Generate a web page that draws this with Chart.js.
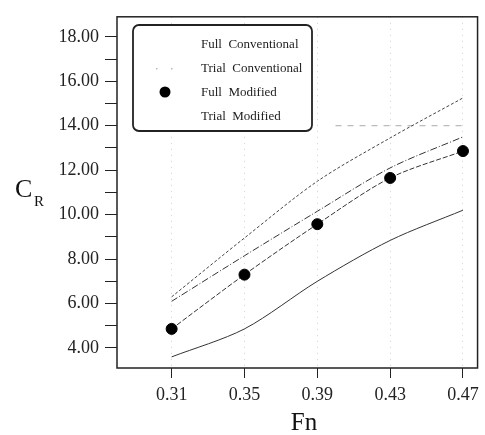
<!DOCTYPE html>
<html>
<head>
<meta charset="utf-8">
<script src="https://cdn.jsdelivr.net/npm/chart.js@4"></script>
<style>
  html, body { margin: 0; padding: 0; background: #fff; }
  #wrap { width: 485px; height: 435px; }
</style>
</head>
<body>
<div id="wrap"><canvas id="crChart" width="485" height="435"></canvas></div>
<script>
// Data
const fn = [0.31, 0.35, 0.39, 0.43, 0.47];
const fullConventional = [6.3, 8.95, 11.5, 13.45, 15.25];
const trialConventional = [6.1, 8.15, 10.15, 12.1, 13.5];
const fullModified = [4.86, 7.3, 9.57, 11.65, 12.86];
const trialModified = [3.6, 4.86, 7.0, 8.84, 10.2];
const seriesLabels = ["Full  Conventional", "Trial  Conventional", "Full  Modified", "Trial  Modified"];

// dashed reference line near the top right
const refX = [0.40, 0.47];
const refY = 14;

const xTicks = [0.31, 0.35, 0.39, 0.43, 0.47];
const yTicks = [4, 5, 6, 7, 8, 9, 10, 11, 12, 13, 14, 15, 16, 17, 18];

const serif = "'Liberation Serif', 'DejaVu Serif', serif";

function pts(ys) {
  return fn.map((x, i) => ({ x: x, y: ys[i] }));
}

// frame around the plot area
const framePlugin = {
  id: "frame",
  afterDraw(chart) {
    const a = chart.chartArea;
    const c = chart.ctx;
    c.save();
    c.strokeStyle = "#222";
    c.lineWidth = 1.5;
    c.strokeRect(a.left, a.top, a.right - a.left, a.bottom - a.top);
    c.restore();
  }
};

// axis titles (C with subscript R, and Fn)
const titlesPlugin = {
  id: "titles",
  afterDraw(chart) {
    const c = chart.ctx;
    c.save();
    c.fillStyle = "#111";
    c.textBaseline = "alphabetic";
    c.textAlign = "left";
    c.font = "26px " + serif;
    c.fillText("C", 15, 197);
    c.font = "15px " + serif;
    c.fillText("R", 34, 206);
    c.textAlign = "center";
    c.font = "25px " + serif;
    c.fillText("Fn", 304, 430);
    c.restore();
  }
};

// boxed legend inside the plot
const legendPlugin = {
  id: "boxLegend",
  afterDraw(chart) {
    const c = chart.ctx;
    c.save();
    c.strokeStyle = "#222";
    c.lineWidth = 1.8;
    c.beginPath();
    c.roundRect(133, 25, 179, 106, 6);
    c.fillStyle = "#fff";
    c.fill();
    c.stroke();
    c.font = "13px " + serif;
    c.fillStyle = "#222";
    c.textAlign = "left";
    const rows = [48, 72, 96, 120];
    seriesLabels.forEach((t, i) => {
      c.fillText(t, 201, rows[i]);
    });
    // marker samples
    c.fillStyle = "#000";
    c.beginPath();
    c.arc(165, 92, 5.5, 0, Math.PI * 2);
    c.fill();
    c.fillStyle = "#bbb";
    c.fillRect(156, 68, 1.5, 1.5);
    c.fillRect(171, 68, 1.5, 1.5);
    c.restore();
  }
};

const ctx = document.getElementById("crChart").getContext("2d");

new Chart(ctx, {
  type: "line",
  data: {
    datasets: [
      {
        label: seriesLabels[0],
        data: pts(fullConventional),
        borderColor: "#444",
        borderWidth: 1,
        borderDash: [3, 2],
        pointRadius: 0,
        tension: 0.3
      },
      {
        label: seriesLabels[1],
        data: pts(trialConventional),
        borderColor: "#333",
        borderWidth: 1,
        borderDash: [7, 2, 1, 2],
        pointRadius: 0,
        tension: 0.3
      },
      {
        label: seriesLabels[2],
        data: pts(fullModified),
        borderColor: "#333",
        borderWidth: 1,
        borderDash: [5, 2],
        pointRadius: 5.5,
        pointBackgroundColor: "#000",
        pointBorderColor: "#000",
        tension: 0.3
      },
      {
        label: seriesLabels[3],
        data: pts(trialModified),
        borderColor: "#333",
        borderWidth: 1,
        pointRadius: 0,
        tension: 0.3
      },
      {
        label: "ref",
        data: refX.map(x => ({ x: x, y: refY })),
        borderColor: "#aaa",
        borderWidth: 1,
        borderDash: [6, 6],
        pointRadius: 0
      }
    ]
  },
  options: {
    responsive: false,
    animation: false,
    layout: { padding: { top: 6, right: 3, left: 0, bottom: 0 } },
    plugins: {
      legend: { display: false },
      tooltip: { enabled: false }
    },
    scales: {
      x: {
        type: "linear",
        min: 0.28,
        max: 0.478,
        afterBuildTicks: s => { s.ticks = xTicks.map(v => ({ value: v })); },
        afterFit: s => { s.height = 67; },
        border: { display: false, dash: [1, 5] },
        grid: {
          color: "#d0d0d0",
          lineWidth: 1,
          tickLength: 10,
          tickColor: "#222",
          tickBorderDash: []
        },
        ticks: {
          color: "#222",
          padding: 6,
          maxRotation: 0,
          font: { family: serif, size: 18 },
          callback: v => v.toFixed(2)
        }
      },
      y: {
        min: 3.1,
        max: 18.9,
        afterBuildTicks: s => { s.ticks = yTicks.map(v => ({ value: v })); },
        afterFit: s => { s.width = 117; },
        border: { display: false },
        grid: {
          drawOnChartArea: false,
          tickLength: 12,
          tickColor: "#222",
          tickBorderDash: []
        },
        ticks: {
          color: "#222",
          padding: 6,
          font: { family: serif, size: 18 },
          callback: v => (v % 2 === 0 ? v.toFixed(2) : "")
        }
      }
    }
  },
  plugins: [framePlugin, legendPlugin, titlesPlugin]
});
</script>
</body>
</html>
